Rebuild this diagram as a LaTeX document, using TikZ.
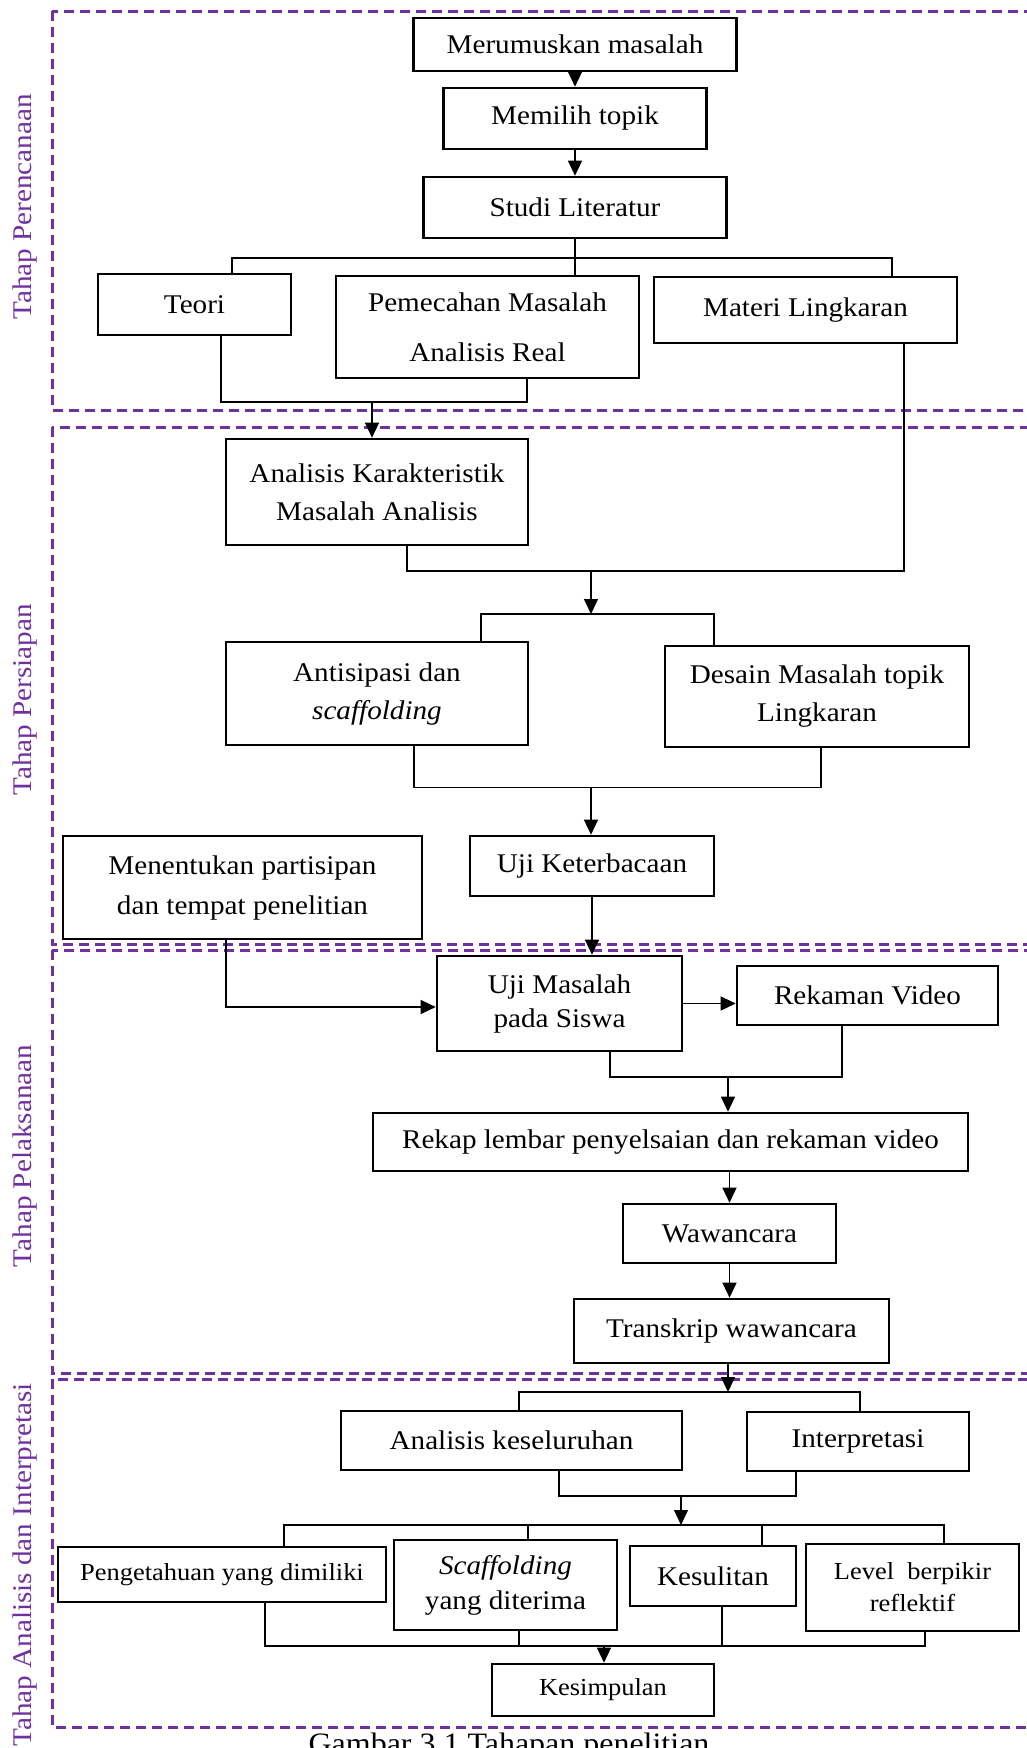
\documentclass[tikz,border=0pt]{standalone}
\usepackage{fontspec}
\setmainfont{Liberation Serif}[FakeStretch=1.08]
\usepackage{tikz}
\usetikzlibrary{arrows.meta}
\definecolor{ungu}{HTML}{7030A0}
\tikzstyle{kotak}=[draw, rectangle, line width=2.6pt, align=center, inner sep=0pt, font=\fontsize{27}{38}\selectfont]
\tikzstyle{kecil}=[font=\fontsize{24.5}{32}\selectfont]
\tikzstyle{garis}=[line width=1.2pt]
\tikzstyle{panah}=[line width=1.2pt, -{Triangle[width=14pt,length=15pt]}]
\tikzstyle{bingkai}=[draw=ungu, line width=3pt, dash pattern=on 10pt off 6pt]
\tikzstyle{tahap}=[text=ungu, rotate=90, inner sep=0pt, font=\fontsize{27}{30}\selectfont]

\begin{document}
\begin{tikzpicture}[x=1pt, y=-1pt]
        \useasboundingbox (0,0) rectangle (1027,1748);

        % bingkai tahap
        \draw[bingkai] (52,11) rectangle (1040,410);
        \draw[bingkai] (52,427) rectangle (1040,944);
        \draw[bingkai] (52,950) rectangle (1040,1373);
        \draw[bingkai] (52,1379) rectangle (1040,1727);
        \node[tahap] (perencanaan) at (25, 207) {Tahap Perencanaan};
        \node[tahap] (persiapan) at (25, 700) {Tahap Persiapan};
        \node[tahap] (pelaksanaan) at (25, 1156) {Tahap Pelaksanaan};
        \node[tahap] (analisis) at (25, 1565) {Tahap Analisis dan Interpretasi};

        % kotak perencanaan
        \node[kotak, minimum width=323pt, minimum height=53pt] (merumuskan) at (575, 44.5) {Merumuskan masalah};
        \node[kotak, minimum width=263pt, minimum height=61pt] (memilih) at (575, 118.5) {Memilih topik};
        \node[kotak, minimum width=303pt, minimum height=61pt] (studi) at (575, 207.5) {Studi Literatur};
        \node[kotak, minimum width=193pt, minimum height=61pt] (teori) at (194.5, 304.5) {Teori};
        \node[kotak, minimum width=303pt, minimum height=102pt, font=\fontsize{27}{50}\selectfont] (pemecahan) at (487.5, 327) {Pemecahan Masalah\\Analisis Real};
        \node[kotak, minimum width=303pt, minimum height=66pt] (materi) at (805.5, 310) {Materi Lingkaran};

        % kotak persiapan
        \node[kotak, minimum width=302pt, minimum height=106pt] (karakteristik) at (377, 492) {Analisis Karakteristik\\Masalah Analisis};
        \node[kotak, minimum width=302pt, minimum height=103pt] (antisipasi) at (377, 693.5) {Antisipasi dan\\\textit{scaffolding}};
        \node[kotak, minimum width=304pt, minimum height=101pt] (desain) at (817, 696.5) {Desain Masalah topik\\Lingkaran};
        \node[kotak, minimum width=244pt, minimum height=60pt] (keterbacaan) at (592, 866) {Uji Keterbacaan};
        \node[kotak, minimum width=359pt, minimum height=103pt, font=\fontsize{27}{40}\selectfont] (menentukan) at (242.5, 887.5) {Menentukan partisipan\\dan tempat penelitian};

        % kotak pelaksanaan
        \node[kotak, minimum width=245pt, minimum height=95pt, font=\fontsize{27}{34}\selectfont] (ujimasalah) at (559.5, 1003.5) {Uji Masalah\\pada Siswa};
        \node[kotak, minimum width=261pt, minimum height=59pt] (rekaman) at (867.5, 995.5) {Rekaman Video};
        \node[kotak, minimum width=595pt, minimum height=58pt] (rekap) at (670.5, 1142) {Rekap lembar penyelsaian dan rekaman video};
        \node[kotak, minimum width=213pt, minimum height=59pt] (wawancara) at (729.5, 1233.5) {Wawancara};
        \node[kotak, minimum width=315pt, minimum height=64pt] (transkrip) at (731.5, 1331) {Transkrip wawancara};

        % kotak analisis dan interpretasi
        \node[kotak, minimum width=341pt, minimum height=59pt] (keseluruhan) at (511.5, 1440.5) {Analisis keseluruhan};
        \node[kotak, minimum width=222pt, minimum height=59pt] (interpretasi) at (858, 1441.5) {Interpretasi};
        \node[kotak, kecil, minimum width=328pt, minimum height=55pt] (pengetahuan) at (222, 1574.5) {Pengetahuan yang dimiliki};
        \node[kotak, minimum width=223pt, minimum height=90pt, font=\fontsize{27}{35}\selectfont] (scaffolding) at (505.5, 1585) {\textit{Scaffolding}\\yang diterima};
        \node[kotak, minimum width=166pt, minimum height=60pt] (kesulitan) at (713, 1576) {Kesulitan};
        \node[kotak, kecil, minimum width=213pt, minimum height=87pt] (level) at (912.5, 1587.5) {Level\ \ berpikir\\reflektif};
        \node[kotak, kecil, minimum width=222pt, minimum height=52pt] (kesimpulan) at (603, 1690) {Kesimpulan};

        \node[anchor=base, font=\fontsize{29.6}{30}\selectfont] (judul) at (509, 1753) {Gambar 3.1 Tahapan penelitian};

        % titik bantu
        \coordinate (c1) at (232, 258);
        \coordinate (c2) at (892, 258);
        \coordinate (c3) at (221, 402);
        \coordinate (c4) at (527, 402);
        \coordinate (c5) at (372, 402);
        \coordinate (c6) at (407, 571);
        \coordinate (c7) at (904, 571);
        \coordinate (c8) at (591, 571);
        \coordinate (c9) at (591, 614);
        \coordinate (c10) at (481, 614);
        \coordinate (c11) at (714, 614);
        \coordinate (c12) at (414, 787.5);
        \coordinate (c13) at (821, 787.5);
        \coordinate (c14) at (591, 787.5);
        \coordinate (c15) at (226, 1007);
        \coordinate (c17) at (610, 1077);
        \coordinate (c18) at (842, 1077);
        \coordinate (c19) at (728, 1077);
        \coordinate (c20) at (728, 1392);
        \coordinate (c21) at (519, 1392);
        \coordinate (c22) at (860, 1392);
        \coordinate (c23) at (559, 1496);
        \coordinate (c24) at (796, 1496);
        \coordinate (c25) at (681, 1496);
        \coordinate (c26) at (681, 1525);
        \coordinate (c27) at (284, 1525);
        \coordinate (c28) at (944, 1525);
        \coordinate (c29) at (528, 1525);
        \coordinate (c30) at (762, 1525);
        \coordinate (c31) at (265, 1646);
        \coordinate (c32) at (925, 1646);
        \coordinate (c33) at (519, 1646);
        \coordinate (c34) at (722, 1646);
        \coordinate (c35) at (604, 1646);

        % garis perencanaan
        \draw[panah] (merumuskan) -- (memilih);
        \draw[panah] (memilih) -- (studi);
        \draw[garis] (studi.south) -- (studi.south |- pemecahan.north);
        \draw[garis] (c1 |- teori.north) -- (c1) -- (c2) -- (c2 |- materi.north);
        \draw[garis] (c3 |- teori.south) -- (c3) -- (c4) -- (c4 |- pemecahan.south);
        \draw[panah] (c5) -- (c5 |- karakteristik.north);

        % garis persiapan
        \draw[garis] (c6 |- karakteristik.south) -- (c6) -- (c7) -- (c7 |- materi.south);
        \draw[panah] (c8) -- (c9);
        \draw[garis] (c10 |- antisipasi.north) -- (c10) -- (c11) -- (c11 |- desain.north);
        \draw[garis] (c12 |- antisipasi.south) -- (c12) -- (c13) -- (c13 |- desain.south);
        \draw[panah] (c14) -- (c14 |- keterbacaan.north);

        % garis pelaksanaan
        \draw[panah] (keterbacaan) -- (keterbacaan |- ujimasalah.north);
        \draw[panah] (c15 |- menentukan.south) -- (c15) -- (ujimasalah.west |- c15);
        \draw[panah] (ujimasalah.east) -- (ujimasalah.east -| rekaman.west);
        \draw[garis] (c17 |- ujimasalah.south) -- (c17) -- (c18) -- (c18 |- rekaman.south);
        \draw[panah] (c19) -- (c19 |- rekap.north);
        \draw[panah] (rekap.south -| wawancara) -- (wawancara);
        \draw[panah] (wawancara.south) -- (wawancara.south |- transkrip.north);

        % garis analisis dan interpretasi
        \draw[panah] (c20 |- transkrip.south) -- (c20);
        \draw[garis] (c21 |- keseluruhan.north) -- (c21) -- (c22) -- (c22 |- interpretasi.north);
        \draw[garis] (c23 |- keseluruhan.south) -- (c23) -- (c24) -- (c24 |- interpretasi.south);
        \draw[panah] (c25) -- (c26);
        \draw[garis] (c27 |- pengetahuan.north) -- (c27) -- (c28) -- (c28 |- level.north);
        \draw[garis] (c29) -- (c29 |- scaffolding.north);
        \draw[garis] (c30) -- (c30 |- kesulitan.north);
        \draw[garis] (c31 |- pengetahuan.south) -- (c31) -- (c32) -- (c32 |- level.south);
        \draw[garis] (c33 |- scaffolding.south) -- (c33);
        \draw[garis] (c34 |- kesulitan.south) -- (c34);
        \draw[panah] (c35) -- (c35 |- kesimpulan.north);
    \end{tikzpicture}
\end{document}
